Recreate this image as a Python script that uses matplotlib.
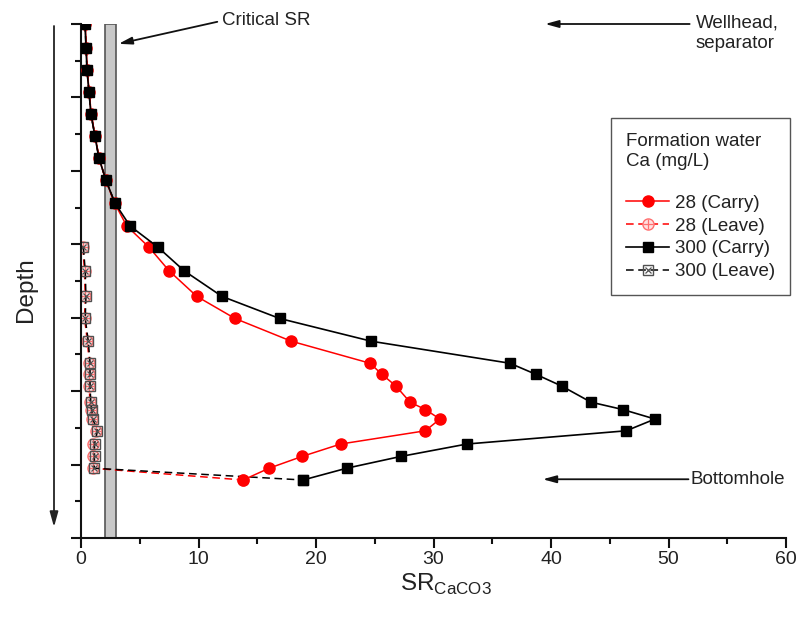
import numpy as np
import matplotlib
matplotlib.use("Agg")
import matplotlib.pyplot as plt
from matplotlib.legend_handler import HandlerTuple
from matplotlib.lines import Line2D

plt.rcParams['font.family'] = ['Liberation Sans', 'DejaVu Sans']

# depth (arbitrary units, 0 = wellhead, increasing downwards)
depth = [0.0, 0.33, 0.63, 0.93, 1.23, 1.53, 1.83, 2.13, 2.44, 2.75,
         3.04, 3.36, 3.71, 4.01, 4.32, 4.62, 4.77, 4.93, 5.15, 5.25,
         5.38, 5.54, 5.72, 5.89, 6.05, 6.21]

carry_28 = [0.36, 0.45, 0.53, 0.70, 0.87, 1.20, 1.55, 2.12, 2.86, 3.89,
            5.79, 7.49, 9.86, 13.1, 17.9, 24.6, 25.6, 26.8, 28.0, 29.3,
            30.55, 29.3, 22.1, 18.8, 16.0, 13.8]
carry_300 = [0.34, 0.43, 0.51, 0.68, 0.85, 1.19, 1.53, 2.13, 2.89, 4.17,
             6.55, 8.77, 12.0, 16.9, 24.7, 36.5, 38.7, 40.9, 43.4, 46.1,
             48.85, 46.4, 32.85, 27.2, 22.6, 18.9]

nan = np.nan
leave_28 = [0.36, 0.45, 0.53, 0.70, 0.87, 1.20, 1.55, 2.12, 2.86, nan,
            0.15, 0.30, 0.36, 0.30, 0.55, 0.70, 0.70, 0.70, 0.76, 0.84,
            0.95, 1.30, 1.05, 1.05, 1.02, 13.8]
leave_300 = [0.34, 0.43, 0.51, 0.68, 0.85, 1.19, 1.53, 2.13, 2.89, nan,
             0.20, 0.36, 0.42, 0.36, 0.62, 0.77, 0.77, 0.77, 0.83, 0.91,
             1.00, 1.40, 1.15, 1.15, 1.12, 18.9]

critical_sr = (2.0, 3.0)

fig = plt.figure(figsize=(7.99, 6.21), dpi=100)
ax = fig.add_axes([81/799, 1-538/621, 705/799, 514/621])

txt = '#222222'
pink = '#ff7070'
grey = '#505050'

# critical SR band
ax.axvspan(critical_sr[0], critical_sr[1], facecolor='#c8c8c8', edgecolor='#555555',
           lw=1.2, zorder=1)

mk_leave = list(range(10, 26))
dash = (0, (5, 3))

# leave series: dashed line + hollow marker + cross inside
ax.plot(leave_28, depth, color='red', lw=1.1, ls=dash, zorder=2,
        marker='o', ms=8, mfc='#ffe0e0', mec=pink, mew=1.0, markevery=mk_leave)
ax.plot(leave_28, depth, ls='none', marker='+', ms=7, mec=pink, mew=0.9,
        markevery=mk_leave, zorder=2)
ax.plot(leave_300, depth, color='black', lw=1.1, ls=dash, zorder=2.5,
        marker='s', ms=7, mfc='none', mec=grey, mew=1.0, markevery=mk_leave)
ax.plot(leave_300, depth, ls='none', marker='x', ms=4.5, mec=grey, mew=0.9,
        markevery=mk_leave, zorder=2.5)

ax.plot(carry_28, depth, color='red', lw=1.1, marker='o', ms=8, mec='red', zorder=3)
ax.plot(carry_300, depth, color='black', lw=1.2, marker='s', ms=7, mec='black', zorder=4)

ax.set_xlim(0, 60)
ax.set_ylim(7, 0)
ax.set_xticks(np.arange(0, 61, 10))
ax.set_xticks(np.arange(5, 60, 10), minor=True)
ax.set_yticks(np.arange(0, 8, 1))
ax.set_yticks(np.arange(0.5, 7, 1), minor=True)
ax.set_yticklabels([])
for side in ['top', 'right']:
    ax.spines[side].set_visible(False)
for side in ['left', 'bottom']:
    ax.spines[side].set_linewidth(1.5)
    ax.spines[side].set_color('#111111')
ax.tick_params(axis='both', which='major', direction='out', length=7, width=1.5, color='#111111')
ax.tick_params(axis='both', which='minor', direction='out', length=4.5, width=1.5, color='#111111')
ax.tick_params(axis='x', which='major', pad=2.5, labelsize=14, labelcolor=txt)

ax.set_xlabel(r'SR$_{\mathregular{CaCO3}}$', fontsize=17.5, color=txt, va='top')
ax.xaxis.set_label_coords(0.518, -0.066)

# annotations
arrow = dict(arrowstyle='-|>,head_length=0.8,head_width=0.22', color='#111111', lw=1.3,
             shrinkA=0, shrinkB=0)
fs = 13.5
ax.annotate('', xy=(3.2, 0.27), xytext=(11.6, -0.03), arrowprops=arrow,
            annotation_clip=False)
ax.text(12.0, -0.05, 'Critical SR', fontsize=fs, color=txt, ha='left', va='center',
        clip_on=False)
ax.annotate('', xy=(39.5, 0.0), xytext=(51.8, 0.0), arrowprops=arrow,
            annotation_clip=False)
ax.text(52.3, -0.13, 'Wellhead,\nseparator', fontsize=fs, color=txt, ha='left', va='top',
        linespacing=1.3, clip_on=False)
ax.annotate('', xy=(39.3, 6.2), xytext=(51.7, 6.2), arrowprops=arrow,
            annotation_clip=False)
ax.text(51.9, 6.2, 'Bottomhole', fontsize=fs, color=txt, ha='left', va='center',
        clip_on=False)

# depth arrow and label outside the axes
ax.annotate('', xy=(54, 621-527), xycoords='figure pixels', xytext=(54, 621-26),
            textcoords='figure pixels',
            arrowprops=dict(arrowstyle='-|>,head_length=0.9,head_width=0.25', color='#222222',
                            lw=1.3, shrinkA=0, shrinkB=0))
fig.text(26/799, 1-290/621, 'Depth', rotation=90, fontsize=17.5, color=txt,
         ha='center', va='center')

# legend proxies
h28c = Line2D([], [], color='red', lw=1.1, marker='o', ms=8, mec='red')
h28l = (Line2D([], [], color='red', lw=1.1, ls=dash, marker='o', ms=8, mfc='#ffe0e0',
               mec=pink, mew=1.0),
        Line2D([], [], ls='none', marker='+', ms=7, mec=pink, mew=0.9))
h300c = Line2D([], [], color='black', lw=1.2, marker='s', ms=7, mec='black')
h300l = (Line2D([], [], color='black', lw=1.1, ls=dash, marker='s', ms=7, mfc='none',
                mec=grey, mew=1.0),
         Line2D([], [], ls='none', marker='x', ms=4.5, mec=grey, mew=0.9))

handles = [h28c, h28l, h300c, h300l]
labels = ['28 (Carry)', '28 (Leave)', '300 (Carry)', '300 (Leave)']
leg = ax.legend(handles, labels, handler_map={tuple: HandlerTuple(ndivide=1)},
                title='Formation water\nCa (mg/L)\n', fontsize=fs, title_fontsize=fs,
                loc='upper right', bbox_to_anchor=(790/799, 1-118/621),
                bbox_transform=fig.transFigure, borderaxespad=0, frameon=True,
                fancybox=False, edgecolor='#555555', framealpha=1, handlelength=2.3,
                handletextpad=0.3, labelspacing=0.3, borderpad=0.8, alignment='left')
leg.get_frame().set_linewidth(1.0)
for t in leg.get_texts():
    t.set_color(txt)
leg.get_title().set_color(txt)

fig.savefig('out.png', dpi=100)
